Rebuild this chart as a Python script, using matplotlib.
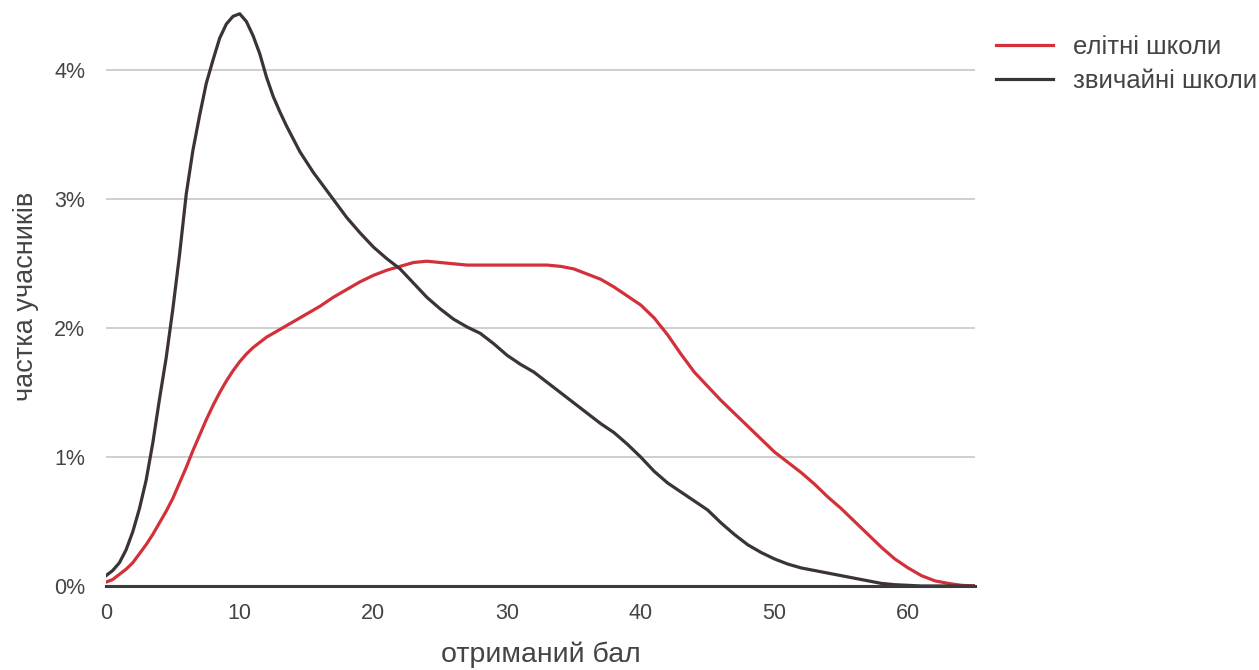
import matplotlib.pyplot as plt
from matplotlib.ticker import FuncFormatter

plt.rcParams['font.family'] = ['Liberation Sans', 'DejaVu Sans']

# отриманий бал: half steps up to 16, whole steps after
scores = [i / 2 for i in range(0, 32)] + list(range(16, 66))

# частка учасників, %
elite = [0.03, 0.05, 0.09, 0.13, 0.18, 0.25, 0.32, 0.40, 0.49, 0.58,
         0.68, 0.80, 0.92, 1.05, 1.17, 1.29, 1.40, 1.50, 1.59, 1.67,
         1.74, 1.80, 1.85, 1.89, 1.93, 1.96, 1.99, 2.02, 2.05, 2.08,
         2.11, 2.14,
         2.17, 2.24, 2.30, 2.36,
         2.41, 2.45, 2.48, 2.51, 2.52, 2.51, 2.50, 2.49, 2.49, 2.49,
         2.49, 2.49, 2.49, 2.49, 2.48, 2.46, 2.42, 2.38, 2.32, 2.25,
         2.18, 2.08, 1.95, 1.80, 1.66, 1.55, 1.44, 1.34, 1.24, 1.14,
         1.04, 0.96, 0.88, 0.79, 0.69, 0.60, 0.50, 0.40, 0.30, 0.21,
         0.14, 0.08, 0.04, 0.02, 0.005, 0.0]

regular = [0.08, 0.12, 0.18, 0.28, 0.42, 0.60, 0.82, 1.11, 1.45, 1.77,
           2.15, 2.57, 3.04, 3.38, 3.65, 3.90, 4.08, 4.25, 4.36, 4.42,
           4.44, 4.38, 4.27, 4.13, 3.95, 3.80, 3.68, 3.57, 3.47, 3.37,
           3.29, 3.21,
           3.14, 3.00, 2.86, 2.74,
           2.63, 2.54, 2.46, 2.35, 2.24, 2.15, 2.07, 2.01, 1.96, 1.88,
           1.79, 1.72, 1.66, 1.58, 1.50, 1.42, 1.34, 1.26, 1.19, 1.10,
           1.00, 0.89, 0.80, 0.73, 0.66, 0.59, 0.49, 0.40, 0.32, 0.26,
           0.21, 0.17, 0.14, 0.12, 0.10, 0.08, 0.06, 0.04, 0.02, 0.01,
           0.005, 0.0, 0.0, 0.0, 0.0, 0.0]

labels = ["елітні школи", "звичайні школи"]
colors = ["#d3313a", "#3b3336"]
text_color = "#444444"

fig = plt.figure(figsize=(12.59, 6.70), dpi=100)
ax = fig.add_axes([0.0842, 0.1254, 0.6902, 0.8656])

ax.plot(scores, elite, color=colors[0], linewidth=2.3, label=labels[0], zorder=3)
ax.plot(scores, regular, color=colors[1], linewidth=2.3, label=labels[1], zorder=4)

ax.set_xlim(0, 65)
ax.set_ylim(0, 4.5)
ax.set_xticks([0, 10, 20, 30, 40, 50, 60])
ax.set_yticks([0, 1, 2, 3, 4])
ax.yaxis.set_major_formatter(FuncFormatter(lambda v, p: f"{v:.0f}%"))
ax.grid(axis='y', color='#cccccc', linewidth=1.3)
ax.set_axisbelow(True)

for side in ['top', 'right', 'left']:
    ax.spines[side].set_visible(False)
ax.spines['bottom'].set_color('#3b3b3b')
ax.spines['bottom'].set_linewidth(2.2)
ax.spines['bottom'].set_zorder(5)

ax.tick_params(axis='both', length=0, labelsize=15.5, colors=text_color)
ax.tick_params(axis='x', pad=12)
ax.tick_params(axis='y', pad=15)

ax.set_xlabel("отриманий бал", fontsize=20.5, color=text_color, labelpad=13)
ax.set_ylabel("частка учасників", fontsize=19.5, color=text_color, labelpad=11)

fig.legend(loc='upper left', bbox_to_anchor=(0.7729, 0.983), frameon=False,
           fontsize=18.5, handlelength=2.2, labelcolor=text_color,
           labelspacing=0.4, handletextpad=0.78)

plt.savefig("out.png", dpi=100)
